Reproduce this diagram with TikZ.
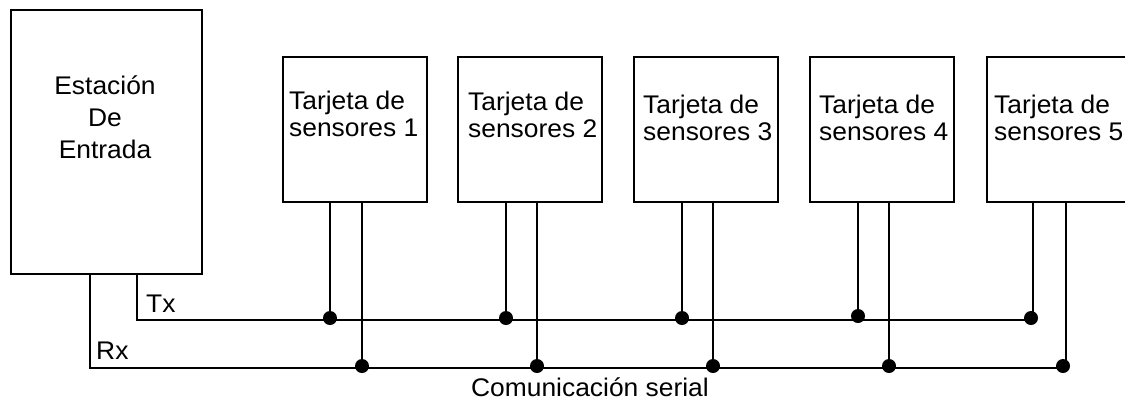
\documentclass[tikz,border=0pt]{standalone}
\usepackage{fontspec}
\setmainfont{Liberation Sans}[FakeStretch=1.035]
\begin{document}
\begin{tikzpicture}[x=1pt,y=-1pt,
  box/.style={draw, line width=1.5pt, minimum width=144pt, minimum height=145pt, anchor=north west, inner sep=0pt},
  lbl/.style={font=\fontsize{25.5}{27}\selectfont, align=left, anchor=base west, inner sep=0pt},
  txt/.style={font=\fontsize{25.5}{32}\selectfont, inner sep=0pt},
  wire/.style={line width=1.5pt},
  jdot/.style={circle, fill=black, inner sep=0pt, minimum size=14pt}]
\clip (0,0) rectangle (1125,400);
% station
\node[box, minimum width=191pt, minimum height=264pt] (st) at (10,9) {};
\node[txt, align=center, anchor=base] (stl) at (105,158) {Estación\\De\\Entrada};
% sensor boards
\node[box] (s1) at (282,56) {};
\node[box] (s2) at (457,56) {};
\node[box] (s3) at (633,56) {};
\node[box] (s4) at (809,56) {};
\node[box] (s5) at (986,56) {};
\node[lbl] (l1) at (289,136) {Tarjeta de\\sensores 1};
\node[lbl] (l2) at (468,137) {Tarjeta de\\sensores 2};
\node[lbl] (l3) at (643,140) {Tarjeta de\\sensores 3};
\node[lbl] (l4) at (819,140) {Tarjeta de\\sensores 4};
\node[lbl] (l5) at (994,140) {Tarjeta de\\sensores 5};
% junction coordinates
\coordinate (txs) at (137,320);
\coordinate (rxs) at (90,368);
\coordinate (tj1) at (330,320);
\coordinate (tj2) at (506,320);
\coordinate (tj3) at (682,320);
\coordinate (tj4) at (858,320);
\coordinate (tj5) at (1033,320);
\coordinate (rj1) at (362,368);
\coordinate (rj2) at (537,368);
\coordinate (rj3) at (713,368);
\coordinate (rj4) at (889,368);
\coordinate (rj5) at (1066,368);
% buses
\draw[wire] (st.south -| txs) -- (txs) -- (tj5);
\draw[wire] (st.south -| rxs) -- (rxs) -- (rj5);
% drops
\foreach \i in {1,...,5}{
  \draw[wire] (s\i.south -| tj\i) -- (tj\i);
  \draw[wire] (s\i.south -| rj\i) -- (rj\i);
}
% dots
\node[jdot] (dt1) at (330,318) {};
\node[jdot] (dt2) at (506,318) {};
\node[jdot] (dt3) at (682,318) {};
\node[jdot] (dt4) at (858,316) {};
\node[jdot] (dt5) at (1031,318) {};
\node[jdot] (dr1) at (362,366) {};
\node[jdot] (dr2) at (537,366) {};
\node[jdot] (dr3) at (713,366) {};
\node[jdot] (dr4) at (889,366) {};
\node[jdot] (dr5) at (1063,366) {};
% labels
\node[lbl, align=left] (txl) at (146,312) {Tx};
\node[lbl, align=left] (rxl) at (96,359) {Rx};
\node[txt, anchor=base] (com) at (590,396) {Comunicación serial};
\end{tikzpicture}
\end{document}
